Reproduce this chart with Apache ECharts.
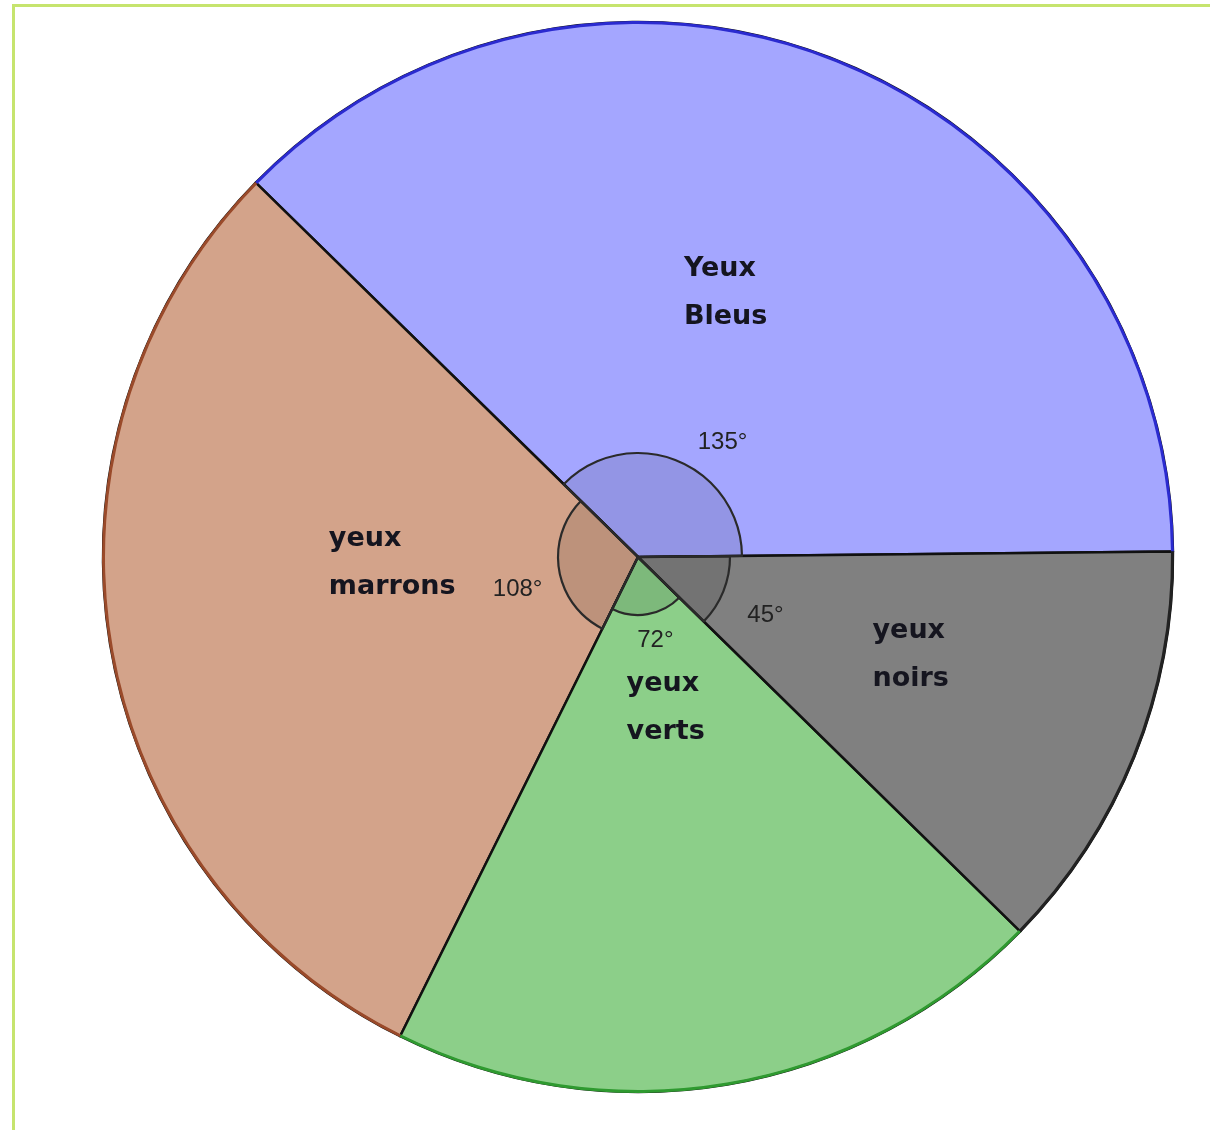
<!DOCTYPE html>
<html>
<head>
<meta charset="utf-8">
<script src="https://cdn.jsdelivr.net/npm/echarts@6/dist/echarts.min.js"></script>
<style>
  html, body { margin: 0; padding: 0; background: #ffffff; overflow: hidden; }
  #frame { position: absolute; left: 12px; top: 4px; width: 1400px; height: 1400px; border: 3px solid #c6e46e; }
  #chart { position: absolute; left: 0; top: 0; width: 1210px; height: 1130px; }
</style>
</head>
<body>
<div id="frame"></div>
<div id="chart"></div>
<script>
// ---- data ----
const categories = ['Yeux Bleus', 'yeux marrons', 'yeux verts', 'yeux noirs'];
const nameLines = [['Yeux', 'Bleus'], ['yeux', 'marrons'], ['yeux', 'verts'], ['yeux', 'noirs']];
const angles = [135, 108, 72, 45];
const angleLabels = ['135°', '108°', '72°', '45°'];

// ---- styles ----
const fillColors = ['#a4a6ff', '#d3a38a', '#8ccf89', '#808080'];
const edgeColors = ['#2b2bd0', '#9a4a2a', '#2f9a30', '#222222'];
const arcRadii = [104, 80, 58, 92];
const nameOffsets = [[-13, -13], [21, -39], [-17, -116], [22, -3]];
const angleOffsets = [[64, -64], [-78, 25], [12, 52], [82, 40]];
const CENTER = [638, 557];
const R = 535;
const START = 0.6;
const nameFont = 'bold 27px "DejaVu Sans"';

const ctx = document.createElement('canvas').getContext('2d');
ctx.font = nameFont;
const rich = {};
nameLines.forEach((lines, i) => {
  const w = Math.max(...lines.map(t => ctx.measureText(t).width));
  rich['n' + i] = { width: Math.ceil(w), align: 'left', fontFamily: 'DejaVu Sans', fontWeight: 'bold', fontSize: 27, lineHeight: 48, color: '#15151f' };
});

const baseData = categories.map((c, i) => ({ name: c, value: angles[i] }));

const series = [];
// main pie
series.push({
  type: 'pie', z: 1, silent: true, animation: false,
  center: CENTER, radius: [0, R], startAngle: START, clockwise: false,
  avoidLabelOverlap: false, minAngle: 0,
  data: baseData.map((d, i) => ({
    name: d.name, value: d.value,
    itemStyle: { color: fillColors[i], borderColor: '#111', borderWidth: 2.5 }
  })),
  label: {
    show: true, position: 'inside',
    formatter: p => nameLines[p.dataIndex].map(t => '{n' + p.dataIndex + '|' + t + '}').join('\n'),
    rich: rich
  },
  labelLine: { show: false },
  labelLayout: p => ({ dx: nameOffsets[p.dataIndex][0], dy: nameOffsets[p.dataIndex][1] })
});
// coloured outer rim
series.push({
  type: 'pie', z: 2, silent: true, animation: false,
  center: CENTER, radius: [R - 2, R + 1], startAngle: START, clockwise: false,
  avoidLabelOverlap: false,
  data: baseData.map((d, i) => ({ name: d.name, value: d.value, itemStyle: { color: edgeColors[i], borderWidth: 0 } })),
  label: { show: false }, labelLine: { show: false }
});
// angle marks
angles.forEach((a, k) => {
  series.push({
    type: 'pie', z: 3, silent: true, animation: false,
    center: CENTER, radius: [0, arcRadii[k]], startAngle: START, clockwise: false,
    avoidLabelOverlap: false,
    data: baseData.map((d, i) => ({
      name: d.name, value: d.value,
      itemStyle: i === k ? { color: 'rgba(0,0,0,0.1)', borderColor: '#2a2a2a', borderWidth: 2.2 }
                         : { color: 'rgba(0,0,0,0)', borderWidth: 0 },
      label: { show: i === k }
    })),
    label: {
      position: 'inside', formatter: p => angleLabels[p.dataIndex],
      fontFamily: 'Liberation Sans', fontSize: 24, color: '#222'
    },
    labelLine: { show: false },
    labelLayout: p => ({ dx: angleOffsets[p.dataIndex][0], dy: angleOffsets[p.dataIndex][1] })
  });
});

const chart = echarts.init(document.getElementById('chart'), null, { renderer: 'canvas' });
chart.setOption({ backgroundColor: 'transparent', animation: false, series: series });
</script>
</body>
</html>
